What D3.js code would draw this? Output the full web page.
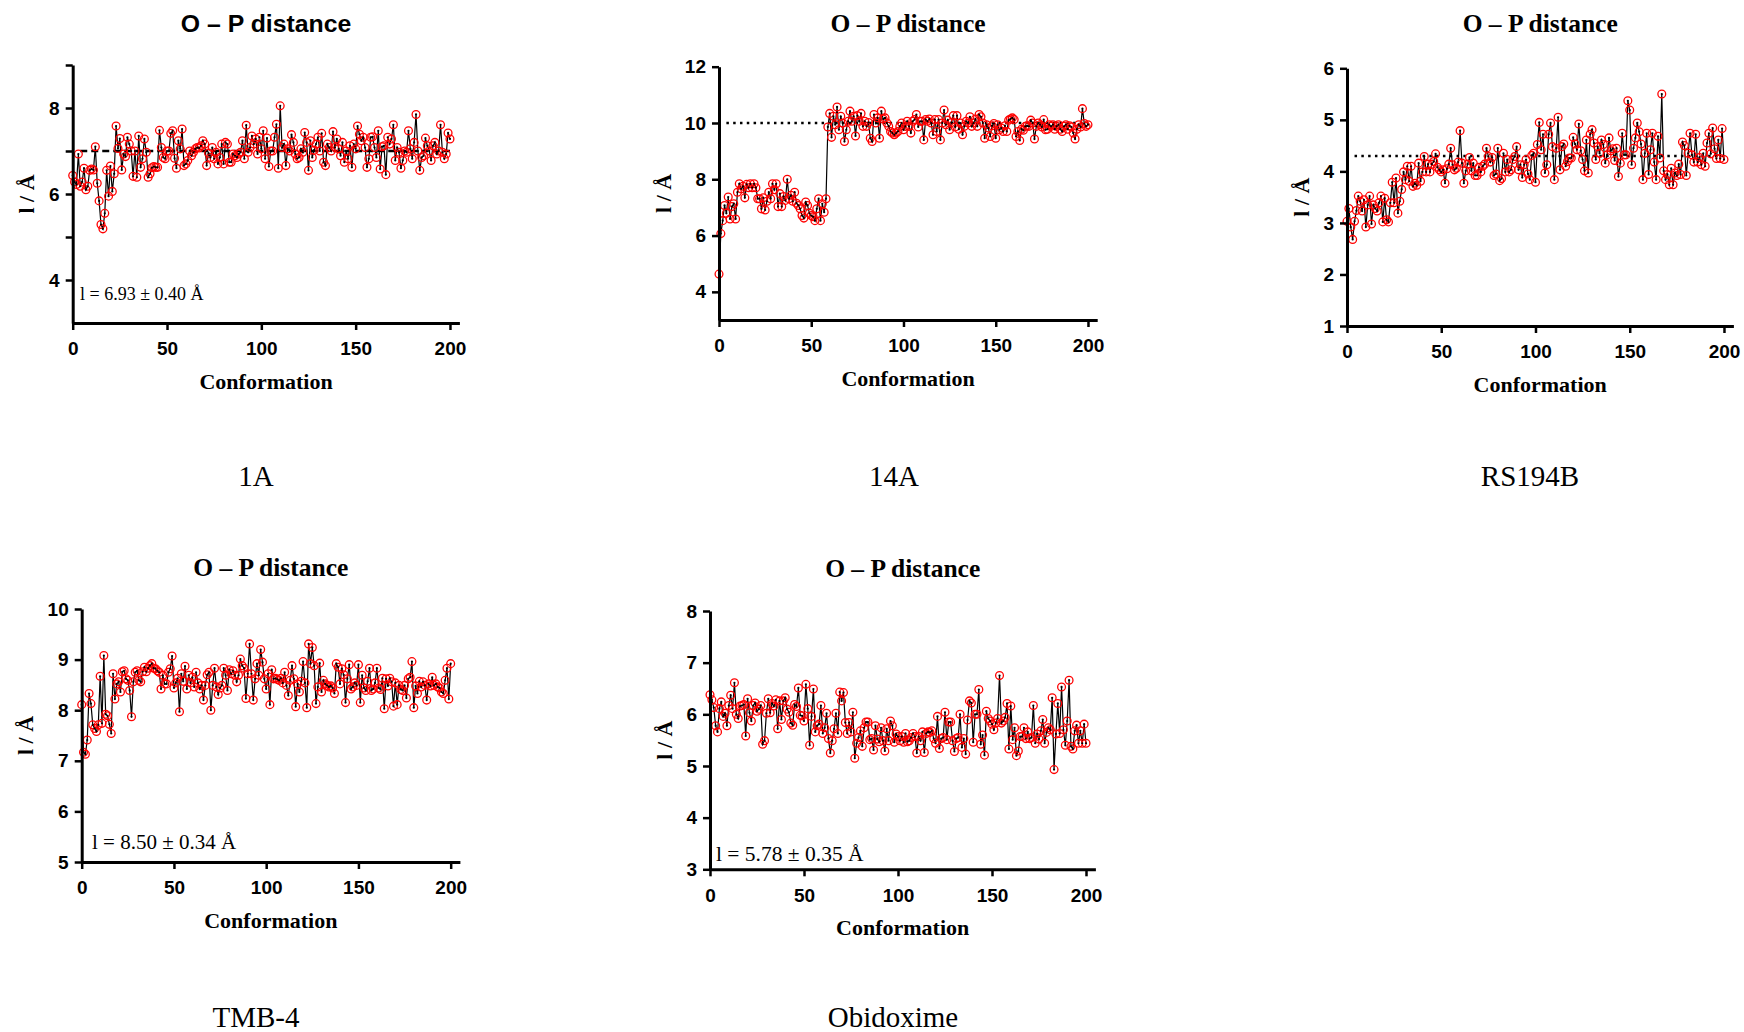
<!DOCTYPE html>
<html>
<head>
<meta charset="utf-8">
<script src="https://cdn.jsdelivr.net/npm/d3@7"></script>
<style>
  body { margin: 0; background: #fff; }
  svg { display: block; }
  .tick text { font-family: "Liberation Sans", Arial, sans-serif; font-weight: bold; font-size: 19px; fill: #000; }
</style>
</head>
<body>
<div id="canvas"></div>
<script>
// O - P distance per conformation (0..200)
const dist1A = [
  6.43, 6.28, 6.22, 6.93, 6.18, 6.28, 6.60, 6.10, 6.18, 6.55,
  6.58, 6.56, 7.10, 6.25, 5.84, 5.29, 5.19, 5.55, 6.55, 5.95,
  6.65, 6.06, 6.47, 7.58, 7.06, 7.29, 6.56, 6.93, 6.87, 7.32,
  7.16, 7.00, 6.41, 7.00, 6.39, 7.35, 6.62, 6.82, 7.28, 6.97,
  6.39, 6.47, 6.61, 6.64, 6.62, 6.62, 7.48, 7.08, 6.85, 6.82,
  7.00, 7.00, 7.41, 7.47, 6.83, 6.60, 7.24, 7.05, 7.51, 6.66,
  6.70, 6.78, 7.00, 6.89, 6.97, 7.05, 7.08, 7.07, 7.12, 7.24,
  7.16, 6.66, 6.95, 6.85, 7.08, 6.82, 6.97, 6.70, 6.85, 7.16,
  6.70, 7.20, 7.16, 6.74, 6.74, 6.93, 6.89, 6.85, 6.93, 6.97,
  7.24, 6.82, 7.60, 6.97, 7.08, 7.35, 7.16, 7.28, 6.93, 7.32,
  7.05, 7.47, 6.82, 7.30, 6.64, 7.00, 7.00, 7.32, 7.62, 6.60,
  8.05, 7.08, 7.16, 6.66, 7.05, 7.00, 7.38, 7.20, 6.93, 6.82,
  6.85, 7.05, 6.97, 7.43, 7.20, 6.55, 7.24, 6.85, 7.02, 7.16,
  7.32, 7.00, 7.41, 6.74, 6.66, 7.16, 7.08, 7.00, 7.45, 7.08,
  7.28, 7.05, 6.89, 7.20, 6.74, 7.00, 6.82, 7.12, 6.62, 7.16,
  7.05, 7.58, 7.39, 7.24, 7.32, 7.08, 6.62, 6.82, 7.32, 7.33,
  7.08, 6.85, 7.47, 6.58, 7.10, 7.12, 6.45, 7.32, 7.16, 7.28,
  7.61, 6.78, 7.08, 6.97, 6.60, 6.78, 7.00, 6.97, 7.47, 7.05,
  6.82, 7.20, 7.85, 7.00, 6.55, 6.85, 6.89, 7.30, 7.12, 7.00,
  6.78, 7.12, 7.20, 6.93, 7.00, 7.61, 6.97, 6.82, 6.93, 7.42,
  7.28
];

const dist14A = [
  4.63, 6.07, 6.53, 7.07, 6.79, 7.37, 6.59, 7.03, 7.13, 6.59,
  7.54, 7.84, 7.66, 7.75, 7.34, 7.82, 7.70, 7.84, 7.70, 7.84,
  7.70, 7.31, 7.31, 6.95, 7.34, 6.91, 7.22, 7.54, 7.31, 7.84,
  7.63, 7.84, 7.03, 7.49, 7.03, 7.39, 7.25, 8.00, 7.31, 7.43,
  7.22, 7.54, 7.15, 7.07, 6.95, 6.71, 6.62, 7.19, 7.07, 6.79,
  6.71, 6.67, 6.53, 6.95, 7.31, 6.53, 7.13, 6.83, 7.31, 9.86,
  10.34, 9.49, 10.24, 9.94, 10.57, 9.76, 10.24, 10.00, 9.34, 9.76,
  10.06, 10.42, 10.06, 10.24, 9.54, 10.26, 10.06, 10.34, 9.88, 10.06,
  9.88, 10.02, 9.46, 9.34, 10.30, 10.00, 10.18, 9.46, 10.42, 10.14,
  10.18, 10.00, 9.88, 9.70, 9.64, 9.58, 9.64, 9.70, 9.88, 10.00,
  9.76, 9.88, 10.06, 9.88, 9.64, 10.06, 10.12, 10.30, 9.86, 10.06,
  10.06, 9.40, 10.12, 10.06, 10.14, 10.00, 9.58, 10.12, 9.70, 10.12,
  9.40, 10.00, 10.46, 9.94, 10.10, 9.76, 10.02, 10.26, 9.86, 10.26,
  9.78, 10.00, 9.58, 9.88, 10.06, 10.00, 10.22, 9.88, 10.00, 10.14,
  9.88, 10.30, 10.22, 10.00, 9.46, 9.94, 9.82, 9.52, 9.90, 9.98,
  9.46, 9.94, 9.76, 9.82, 9.70, 9.90, 9.70, 10.10, 10.14, 10.18,
  10.12, 9.52, 9.70, 9.38, 9.78, 9.74, 9.88, 9.90, 9.88, 10.10,
  10.00, 9.43, 9.88, 10.00, 9.94, 9.86, 10.12, 9.76, 9.78, 9.94,
  9.88, 9.94, 9.78, 9.88, 9.94, 9.78, 9.70, 9.88, 9.94, 9.78,
  9.90, 9.86, 9.64, 9.43, 9.78, 9.94, 9.86, 10.51, 9.98, 9.88,
  9.94
];

const distRS194B = [
  3.03, 3.28, 2.92, 2.68, 3.03, 3.24, 3.52, 3.42, 3.23, 3.45,
  2.92, 3.35, 3.52, 2.98, 3.35, 3.28, 3.23, 3.39, 3.52, 3.02,
  3.48, 3.06, 3.02, 3.39, 3.79, 3.39, 3.87, 3.19, 3.42, 3.65,
  3.99, 3.84, 4.10, 3.81, 4.10, 3.71, 3.77, 3.73, 4.16, 3.81,
  3.99, 4.29, 3.99, 4.14, 3.99, 4.14, 4.19, 4.34, 4.08, 4.03,
  3.99, 4.03, 3.77, 4.05, 4.14, 4.45, 4.13, 4.03, 4.06, 4.18,
  4.79, 4.16, 3.77, 4.01, 4.14, 4.27, 4.01, 4.16, 3.92, 3.92,
  4.08, 3.99, 4.10, 4.14, 4.45, 4.29, 4.18, 4.27, 3.92, 3.95,
  4.45, 3.82, 3.86, 4.35, 3.99, 4.23, 3.99, 4.03, 4.23, 4.29,
  4.48, 4.03, 4.13, 3.88, 4.13, 4.23, 3.95, 3.84, 4.31, 4.35,
  3.79, 4.52, 4.95, 4.42, 4.72, 3.97, 4.13, 4.72, 4.94, 4.48,
  3.84, 4.45, 5.05, 4.03, 4.48, 4.53, 4.10, 4.19, 4.26, 4.26,
  4.66, 4.53, 4.42, 4.92, 4.40, 4.23, 4.01, 4.61, 3.97, 4.72,
  4.81, 4.55, 4.23, 4.48, 4.35, 4.61, 4.52, 4.16, 4.32, 4.65,
  4.40, 4.44, 4.21, 4.45, 3.90, 4.16, 4.74, 4.32, 4.32, 5.37,
  5.19, 4.13, 4.45, 4.65, 4.94, 4.77, 4.53, 3.84, 4.35, 4.74,
  3.94, 4.42, 4.74, 4.18, 3.84, 4.68, 4.26, 5.50, 4.01, 3.84,
  3.94, 3.74, 4.06, 3.74, 3.97, 3.92, 4.14, 3.94, 4.57, 4.50,
  3.92, 4.35, 4.74, 4.32, 4.18, 4.72, 4.18, 4.27, 4.13, 4.35,
  4.10, 4.55, 4.74, 4.34, 4.84, 4.44, 4.25, 4.61, 4.25, 4.83,
  4.23
];

const distTMB4 = [
  8.11, 7.17, 7.13, 7.41, 8.33, 8.13, 7.71, 7.64, 7.58, 7.71,
  8.67, 7.74, 9.08, 7.92, 7.89, 7.72, 7.54, 8.72, 8.22, 8.52,
  8.56, 8.36, 8.76, 8.78, 8.62, 8.59, 8.39, 7.87, 8.56, 8.75,
  8.78, 8.59, 8.56, 8.76, 8.85, 8.76, 8.83, 8.88, 8.92, 8.83,
  8.82, 8.78, 8.75, 8.42, 8.69, 8.52, 8.52, 8.75, 8.82, 9.07,
  8.44, 8.54, 8.63, 7.97, 8.72, 8.57, 8.87, 8.42, 8.69, 8.54,
  8.65, 8.46, 8.75, 8.54, 8.42, 8.49, 8.20, 8.49, 8.70, 8.75,
  8.00, 8.49, 8.83, 8.46, 8.31, 8.44, 8.49, 8.83, 8.69, 8.39,
  8.80, 8.72, 8.78, 8.69, 8.56, 8.69, 9.01, 8.88, 8.83, 8.23,
  8.72, 9.31, 8.72, 8.20, 8.62, 8.92, 8.69, 9.20, 8.95, 8.62,
  8.42, 8.72, 8.11, 8.80, 8.62, 8.63, 8.61, 8.59, 8.63, 8.54,
  8.75, 8.49, 8.29, 8.59, 8.88, 8.62, 8.07, 8.52, 8.36, 8.57,
  8.96, 8.54, 8.05, 9.31, 8.92, 9.24, 8.88, 8.13, 8.46, 8.93,
  8.36, 8.59, 8.52, 8.49, 8.46, 8.48, 8.44, 8.33, 8.92, 8.85,
  8.52, 8.82, 8.70, 8.15, 8.62, 8.90, 8.42, 8.46, 8.54, 8.49,
  8.90, 8.15, 8.69, 8.44, 8.39, 8.57, 8.83, 8.39, 8.42, 8.54,
  8.83, 8.44, 8.41, 8.63, 8.03, 8.62, 8.48, 8.63, 8.56, 8.08,
  8.54, 8.11, 8.49, 8.41, 8.39, 8.49, 8.24, 8.62, 8.65, 8.96,
  8.05, 8.48, 8.33, 8.57, 8.46, 8.56, 8.49, 8.20, 8.52, 8.48,
  8.65, 8.49, 8.52, 8.46, 8.44, 8.36, 8.33, 8.59, 8.83, 8.22,
  8.92
];

const distObidoxime = [
  6.38, 6.28, 6.13, 5.78, 5.66, 6.11, 6.24, 5.96, 6.02, 5.78,
  6.17, 6.37, 6.11, 6.61, 6.00, 5.92, 6.16, 6.17, 6.19, 5.58,
  6.30, 6.03, 5.87, 6.17, 6.22, 6.06, 6.10, 6.17, 5.42, 5.49,
  6.02, 6.30, 6.03, 6.21, 6.16, 6.28, 5.72, 6.26, 5.90, 6.26,
  6.32, 6.10, 6.04, 5.83, 5.79, 6.19, 6.15, 6.51, 5.98, 5.97,
  5.87, 6.58, 6.11, 5.40, 5.96, 6.49, 5.66, 5.78, 5.81, 6.17,
  5.63, 5.74, 6.02, 5.53, 5.25, 5.49, 5.72, 6.02, 5.63, 6.43,
  6.26, 6.42, 5.84, 5.63, 5.84, 5.66, 6.04, 5.15, 5.44, 5.55,
  5.68, 5.38, 5.74, 5.85, 5.85, 5.51, 5.53, 5.31, 5.78, 5.52,
  5.47, 5.74, 5.49, 5.29, 5.72, 5.49, 5.87, 5.78, 5.46, 5.62,
  5.57, 5.49, 5.57, 5.46, 5.63, 5.47, 5.49, 5.55, 5.63, 5.57,
  5.25, 5.57, 5.49, 5.66, 5.26, 5.63, 5.66, 5.65, 5.68, 5.53,
  5.44, 5.96, 5.34, 5.53, 5.55, 6.04, 5.51, 5.85, 5.85, 5.49,
  5.28, 5.53, 5.55, 6.00, 5.36, 5.53, 5.23, 5.89, 6.26, 6.22,
  5.46, 6.00, 6.00, 6.48, 5.42, 5.60, 5.21, 6.06, 5.92, 5.87,
  5.81, 5.70, 5.83, 5.92, 6.75, 5.83, 5.87, 5.94, 6.21, 5.33,
  6.16, 5.51, 5.74, 5.20, 5.29, 5.57, 5.57, 5.74, 5.53, 5.66,
  5.53, 5.55, 6.17, 5.44, 5.62, 5.52, 5.68, 5.90, 5.44, 5.65,
  5.74, 5.70, 6.32, 4.93, 5.62, 6.21, 5.63, 6.53, 5.70, 5.40,
  5.87, 6.66, 5.38, 5.33, 5.68, 5.79, 5.44, 5.68, 5.44, 5.81,
  5.44
];

const xTicks = [0, 50, 100, 150, 200];
const yTicks1A = [4, 5, 6, 7, 8, 9];
const yLabels1A = [4, 6, 8];
const yTicks14A = [4, 6, 8, 10, 12];
const yTicksRS194B = [1, 2, 3, 4, 5, 6];
const yTicksTMB4 = [5, 6, 7, 8, 9, 10];
const yTicksObidoxime = [3, 4, 5, 6, 7, 8];

const names = ["1A", "14A", "RS194B", "TMB-4", "Obidoxime"];
const annotations = ["l = 6.93 ± 0.40 Å", null, null, "l = 8.50 ± 0.34 Å", "l = 5.78 ± 0.35 Å"];

const sans = '"Liberation Sans", Arial, sans-serif';
const serif = '"Liberation Serif", "Times New Roman", serif';

// layout of each panel (pixels)
const panels = [
  { values: dist1A, name: names[0], ann: annotations[0], yDomain: [3, 9], yTicks: yTicks1A, yLabels: yLabels1A,
    left: 72.7, top: 65, width: 386.7, bottom: 323, titleFont: sans, titleSize: 24.8, titleY: 32, subX: 256, subY: 486,
    ref: { y: 7, dash: "7,4" }, annX: 80, annY: 300, annSize: 18 },
  { values: dist14A, name: names[1], ann: annotations[1], yDomain: [3, 12], yTicks: yTicks14A,
    left: 719, top: 66.7, width: 378.2, bottom: 320, titleFont: serif, titleSize: 25.5, titleY: 32, subX: 894, subY: 486,
    ref: { y: 10, dash: "2.5,4.3" } },
  { values: distRS194B, name: names[2], ann: annotations[2], yDomain: [1, 6], yTicks: yTicksRS194B,
    left: 1347, top: 68.3, width: 386.4, bottom: 326, titleFont: serif, titleSize: 25.5, titleY: 32, subX: 1530, subY: 486,
    ref: { y: 4.3, dash: "2.5,4.3" } },
  { values: distTMB4, name: names[3], ann: annotations[3], yDomain: [5, 10], yTicks: yTicksTMB4,
    left: 81.7, top: 609, width: 378.2, bottom: 862, titleFont: serif, titleSize: 25.5, titleY: 576, subX: 256, subY: 1027,
    annX: 92, annY: 849, annSize: 21 },
  { values: distObidoxime, name: names[4], ann: annotations[4], yDomain: [3, 8], yTicks: yTicksObidoxime,
    left: 710, top: 611, width: 385.4, bottom: 869.3, titleFont: serif, titleSize: 25.5, titleY: 577, subX: 893, subY: 1027,
    annX: 716, annY: 861, annSize: 21.5 }
];

const svg = d3.select("#canvas").append("svg")
    .attr("width", 1744)
    .attr("height", 1032);

panels.forEach(p => {
    const x = d3.scaleLinear()
        .domain([0, 205])
        .range([p.left, p.left + p.width]);

    const y = d3.scaleLinear()
        .domain(p.yDomain)
        .range([p.bottom, p.top]);

    const g = svg.append("g");
    const cx = p.left + p.width / 2;

    // reference line
    if (p.ref) {
        g.append("line")
            .attr("x1", x(4))
            .attr("x2", x(200))
            .attr("y1", y(p.ref.y))
            .attr("y2", y(p.ref.y))
            .style("stroke", "#000")
            .style("stroke-width", 2.5)
            .style("stroke-dasharray", p.ref.dash);
    }

    const pts = p.values.map((v, i) => ({ c: i, v: v }));

    const line = d3.line()
        .x(d => x(d.c))
        .y(d => y(d.v));

    g.append("path")
        .datum(pts)
        .attr("d", line)
        .style("fill", "none")
        .style("stroke", "#000")
        .style("stroke-width", 1.2);

    g.selectAll("circle.pt").data(pts).enter().append("circle")
        .attr("class", "pt")
        .attr("cx", d => x(d.c))
        .attr("cy", d => y(d.v))
        .attr("r", 3.9)
        .style("fill", "none")
        .style("stroke", "#ff0000")
        .style("stroke-width", 1.3);

    g.selectAll("circle.dot").data(pts).enter().append("circle")
        .attr("class", "dot")
        .attr("cx", d => x(d.c))
        .attr("cy", d => y(d.v))
        .attr("r", 1.1)
        .style("fill", "#000");

    // axes
    const xAxis = g.append("g")
        .attr("transform", `translate(0, ${p.bottom})`)
        .call(d3.axisBottom(x).tickValues(xTicks).tickSize(7).tickSizeOuter(0).tickPadding(12));

    const yAxis = g.append("g")
        .attr("transform", `translate(${p.left}, 0)`)
        .call(d3.axisLeft(y).tickValues(p.yTicks).tickSize(7).tickSizeOuter(0).tickPadding(6)
            .tickFormat(d => (!p.yLabels || p.yLabels.includes(d)) ? d : ""));

    [xAxis, yAxis].forEach(a => {
        a.select(".domain").style("stroke", "#000").style("stroke-width", 3);
        a.selectAll(".tick line").style("stroke", "#000").style("stroke-width", 2.5);
    });

    // titles and labels
    g.append("text")
        .attr("text-anchor", "middle")
        .attr("x", cx)
        .attr("y", p.titleY)
        .style("font-family", p.titleFont)
        .style("font-weight", "bold")
        .style("font-size", p.titleSize + "px")
        .text("O – P distance");

    g.append("text")
        .attr("text-anchor", "middle")
        .attr("x", cx)
        .attr("y", p.bottom + 66)
        .style("font-family", serif)
        .style("font-weight", "bold")
        .style("font-size", "22px")
        .text("Conformation");

    const digits = d3.max(p.yTicks, d => String(d).length);
    g.append("text")
        .attr("text-anchor", "middle")
        .attr("transform", `translate(${p.left - 46 - 10 * (digits - 1)}, ${(p.top + p.bottom) / 2}) rotate(-90)`)
        .attr("dy", "0.35em")
        .style("font-family", serif)
        .style("font-weight", "bold")
        .style("font-size", "22px")
        .text("l / Å");

    if (p.ann) {
        g.append("text")
            .attr("x", p.annX)
            .attr("y", p.annY)
            .style("font-family", serif)
            .style("font-size", p.annSize + "px")
            .text(p.ann);
    }

    svg.append("text")
        .attr("text-anchor", "middle")
        .attr("x", p.subX)
        .attr("y", p.subY)
        .style("font-family", serif)
        .style("font-size", "29px")
        .text(p.name);
});
</script>
</body>
</html>
